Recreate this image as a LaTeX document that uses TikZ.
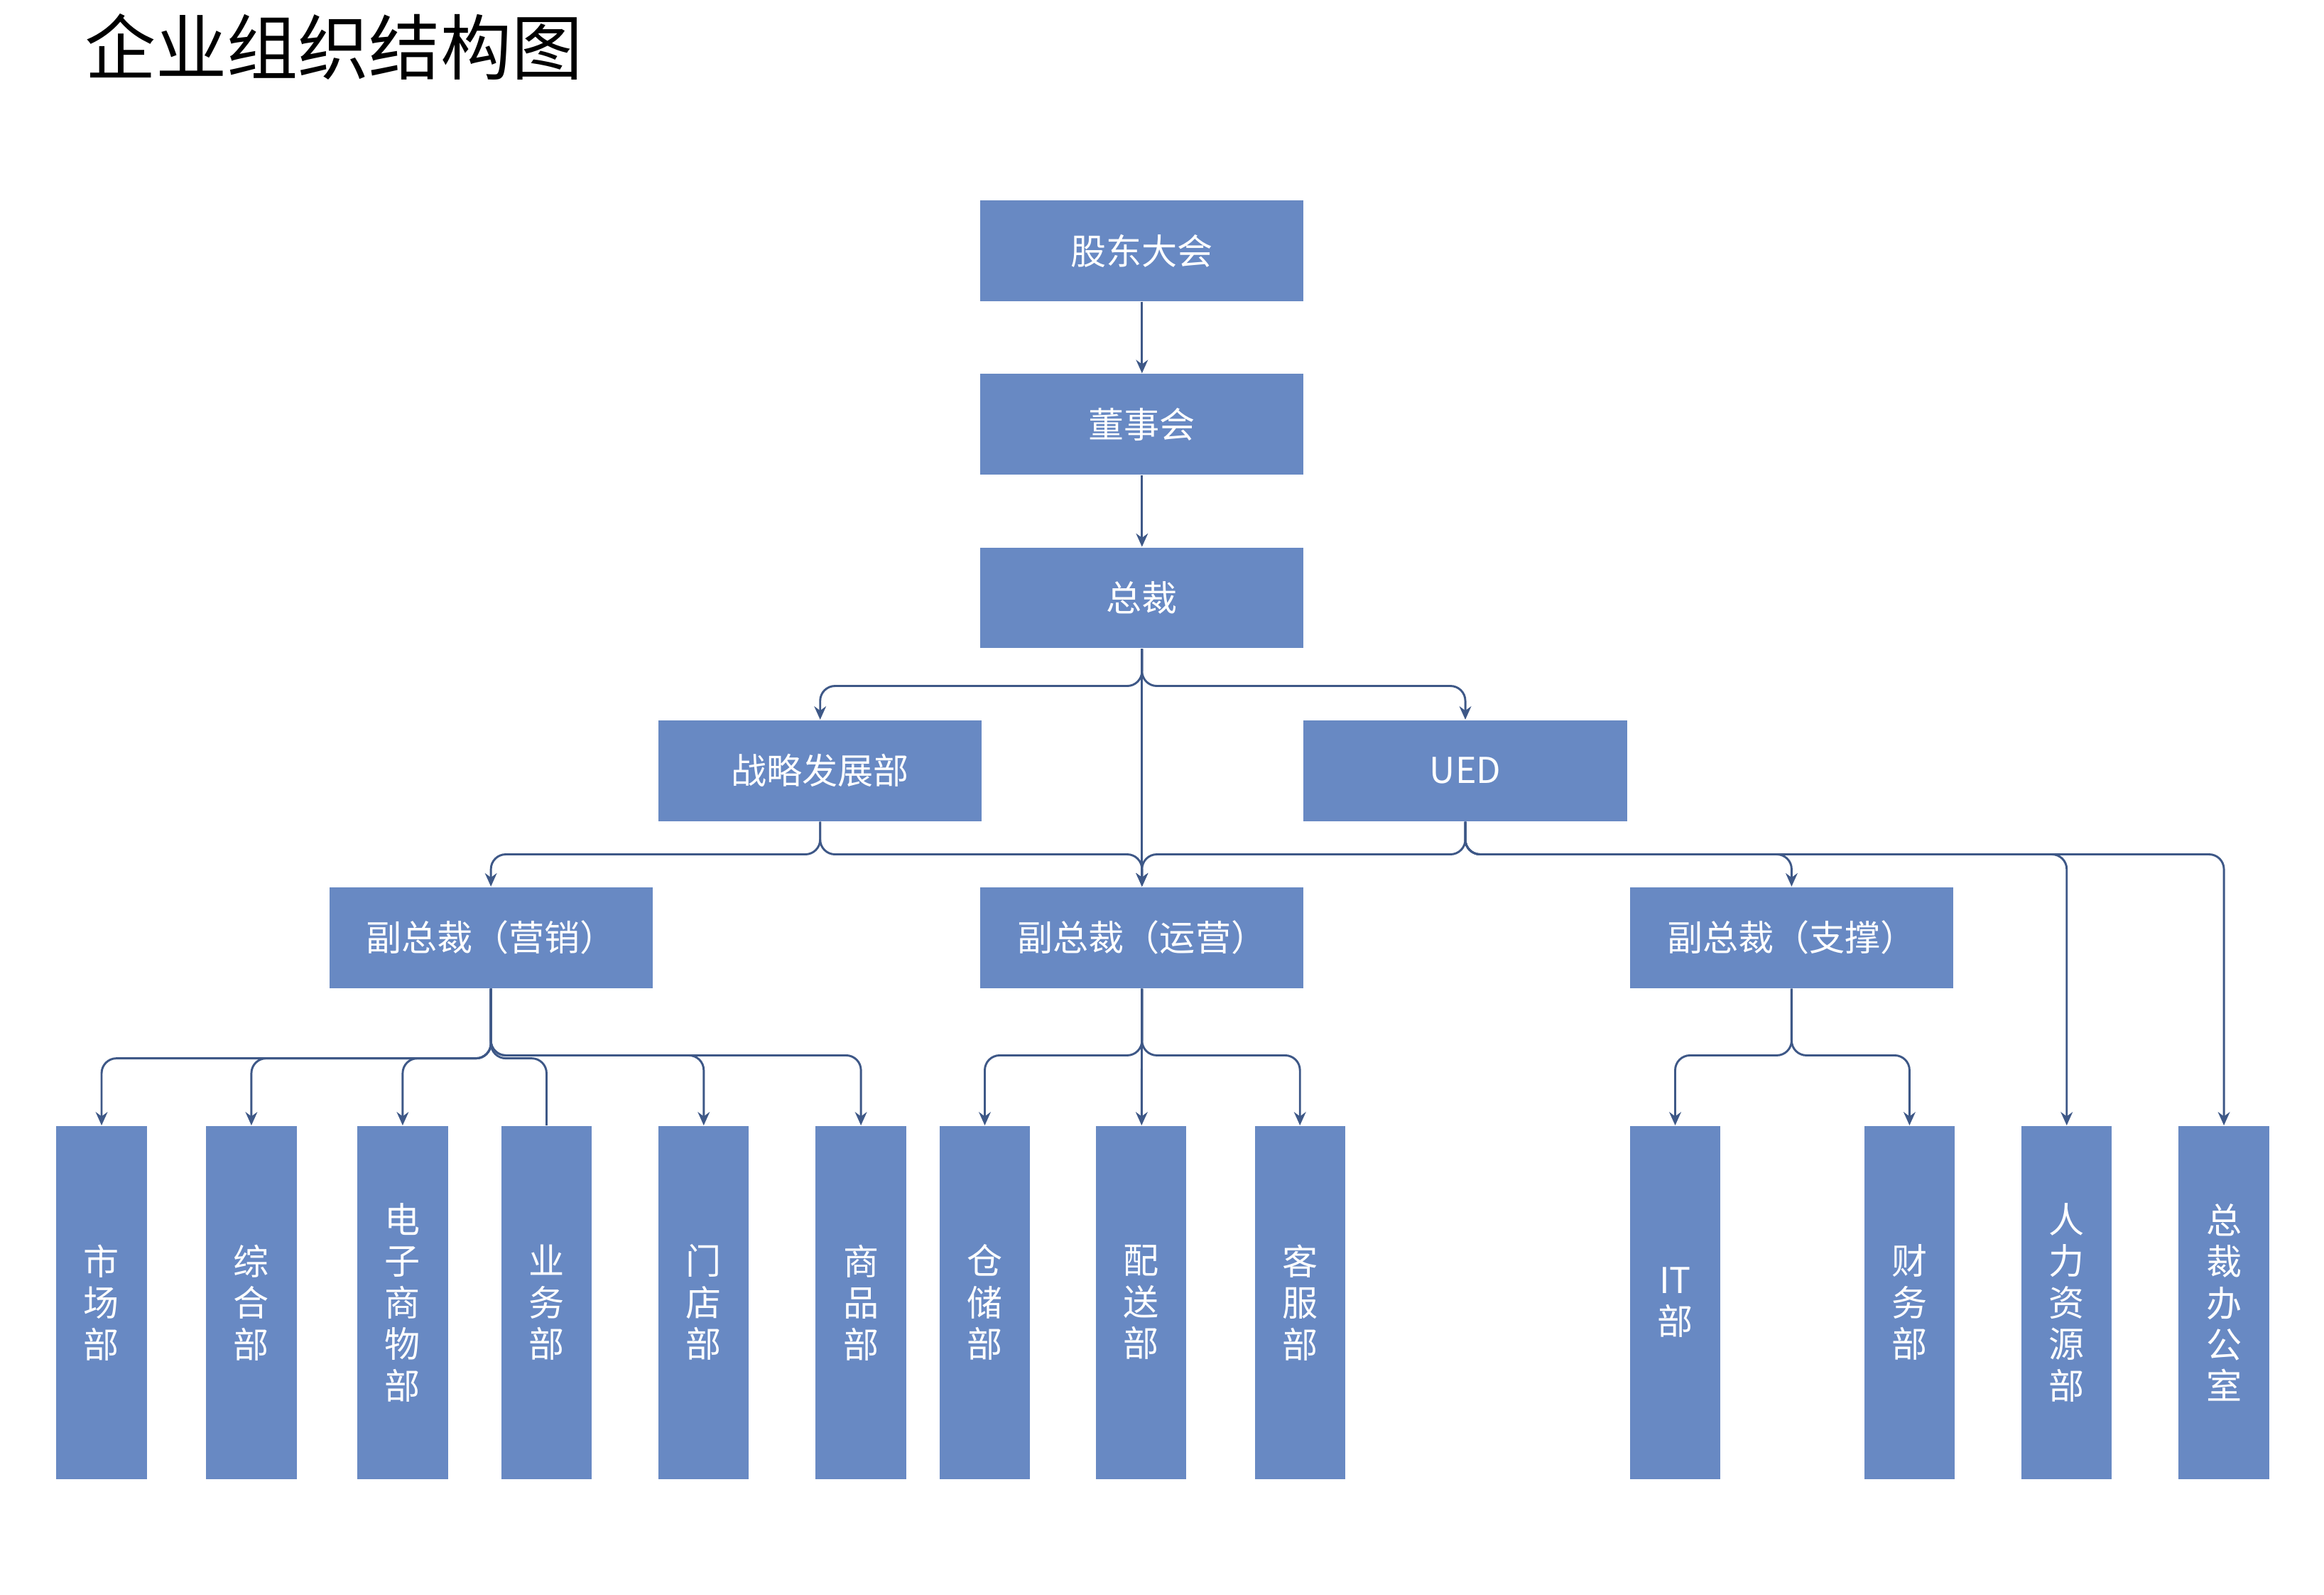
\documentclass[tikz,border=0pt]{standalone}
\usepackage{fontspec}
\setmainfont{Noto Sans CJK SC}
\usetikzlibrary{arrows.meta}
\definecolor{boxblue}{HTML}{6889C3}
\definecolor{linkblue}{HTML}{3E5887}
\tikzset{
  hbox/.style={fill=boxblue, text=white, minimum width=109pt, minimum height=34pt,
    inner sep=0pt, font=\fontsize{12}{14}\selectfont},
  vbox/.style={fill=boxblue, text=white, minimum width=30.5pt, minimum height=119pt,
    inner sep=0pt, align=center, font=\fontsize{12}{14}\selectfont},
  link/.style={draw=linkblue, line width=0.7pt, rounded corners=5pt},
  arr/.style={link, -{Stealth[length=4.5pt,width=4pt]}}
}

\begin{document}
\begin{tikzpicture}[x=0.5pt,y=-0.5pt]
    \useasboundingbox (0,0) rectangle (1567,1075);
    \node at (225,31.5) [inner sep=0pt, font=\fontsize{24}{28}\selectfont] (title) {企业组织结构图};
    % top levels
    \node at (770,169) [hbox] (gd) {股东大会};
    \node at (770,286) [hbox] (dsh) {董事会};
    \node at (770,403) [hbox] (zc) {总裁};
    \node at (553,519.5) [hbox] (zl) {战略发展部};
    \node at (988,519.5) [hbox] (ued) {UED};
    \node at (331,632) [hbox] (fyx) {副总裁（营销）};
    \node at (770,632) [hbox] (fyy) {副总裁（运营）};
    \node at (1208,632) [hbox] (fzc) {副总裁（支撑）};
    % departments
    \node at (68.5,878) [vbox] (sc) {市\\场\\部};
    \node at (169.5,878) [vbox] (zh) {综\\合\\部};
    \node at (271.5,878) [vbox] (dz) {电\\子\\商\\物\\部};
    \node at (368.5,878) [vbox] (yw) {业\\务\\部};
    \node at (474.5,878) [vbox] (md) {门\\店\\部};
    \node at (580.5,878) [vbox] (sp) {商\\品\\部};
    \node at (664,878) [vbox] (cc) {仓\\储\\部};
    \node at (769.5,878) [vbox] (ps) {配\\送\\部};
    \node at (876.5,878) [vbox] (kf) {客\\服\\部};
    \node at (1129.5,878) [vbox] (it) {IT\\部};
    \node at (1287.5,878) [vbox] (cw) {财\\务\\部};
    \node at (1393.5,878) [vbox] (rl) {人\\力\\资\\源\\部};
    \node at (1499.5,878) [vbox] (zb) {总\\裁\\办\\公\\室};
    % connectors
    \draw[arr] (gd) -- (dsh);
    \draw[arr] (dsh) -- (zc);
    \draw[arr] (zc) -- (fyy);
    \draw[arr] (zc.south) -- ++(0,25) -| (zl.north);
    \draw[arr] (zc.south) -- ++(0,25) -| (ued.north);
    \draw[arr] (zl.south) -- ++(0,22) -| (fyx.north);
    \draw[arr] (zl.south) -- ++(0,22) -| (fyy.north);
    \foreach \c in {fyy,fzc,rl,zb}
      \draw[arr] (ued.south) -- ++(0,22) -| (\c.north);
    \foreach \c in {sc,zh,dz}
      \draw[arr] (fyx.south) -- ++(0,47) -| (\c.north);
    \draw[link] (fyx.south) -- ++(0,47) -| (yw.north);
    \foreach \c in {md,sp}
      \draw[arr] (fyx.south) -- ++(0,45) -| (\c.north);
    \draw[arr] (fyy) -- (ps);
    \foreach \c in {cc,kf}
      \draw[arr] (fyy.south) -- ++(0,45) -| (\c.north);
    \foreach \c in {it,cw}
      \draw[arr] (fzc.south) -- ++(0,45) -| (\c.north);
\end{tikzpicture}
\end{document}
